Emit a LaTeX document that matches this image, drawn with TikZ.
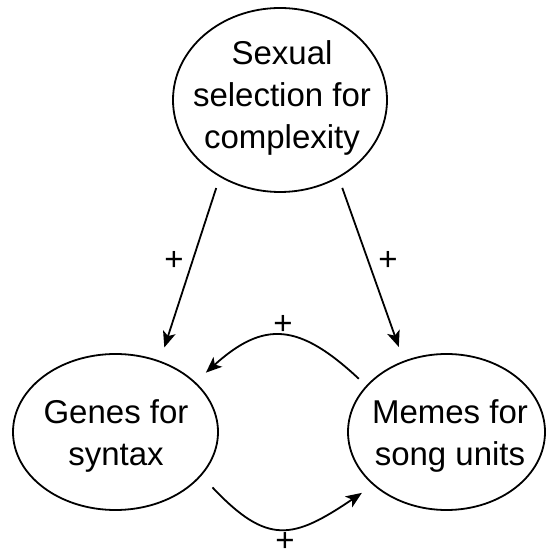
\documentclass[tikz,border=0pt]{standalone}
\usepackage{fontspec}
\setmainfont{Liberation Sans}
\usetikzlibrary{arrows.meta,shapes.geometric}
\begin{document}
\begin{tikzpicture}[x=1pt,y=1pt,
  oval/.style={ellipse, draw, line width=1.8pt, inner sep=0pt},
  txt/.style={align=center, font=\fontsize{33}{42}\selectfont, inner sep=0pt},
  plus/.style={font=\fontsize{33}{40}\selectfont, inner sep=0pt},
  arr/.style={line width=1.8pt, -{Stealth[length=16pt,width=13pt,inset=4pt]}}]
\useasboundingbox (0,0) rectangle (546,557);
\fill[white] (0,0) rectangle (546,557);
% ellipses
\node[oval, minimum width=214pt, minimum height=184pt] (top) at (280,457) {};
\node[oval, minimum width=205pt, minimum height=156pt] (gl) at (115.5,125) {};
\node[oval, minimum width=197pt, minimum height=156pt] (mr) at (446.5,125) {};
% texts
\node[txt] (toptxt) at (282,459.5) {Sexual\\selection for\\complexity};
\node[txt] (gltxt) at (116,121.5) {Genes for\\syntax};
\node[txt] (mrtxt) at (450,121.5) {Memes for\\song units};
% connectors
\draw[arr, shorten <=11.5pt, shorten >=14pt] (top.232.9) -- (gl.58.8);
\draw[arr, shorten <=10.6pt, shorten >=14.7pt] (top.307.2) -- (mr.121.6);
\draw[arr, shorten <=10pt, shorten >=14pt] (mr.150.8) .. controls +(137:92pt) and +(42:92pt) .. (gl.32.1);
\draw[arr, shorten <=16pt, shorten >=13.6pt] (gl.333.2) .. controls +(313.4:96.5pt) and +(214:96.5pt) .. (mr.216.7);
% labels
\node[plus] (p1) at (174,296) {+};
\node[plus] (p2) at (388,296) {+};
\node[plus] (p3) at (283,232) {+};
\node[plus] (p4) at (285,15) {+};
\end{tikzpicture}
\end{document}
